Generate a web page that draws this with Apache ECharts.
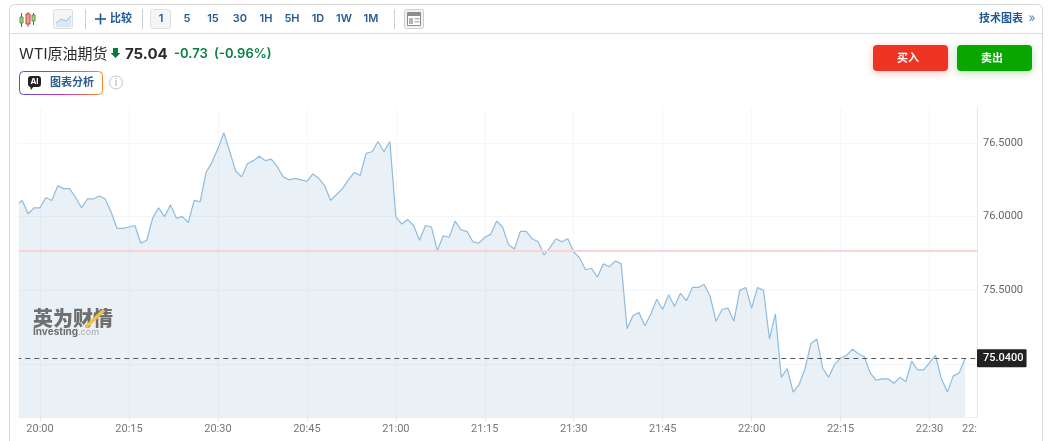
<!DOCTYPE html>
<html><head><meta charset="utf-8">
<style>html,body{margin:0;padding:0;background:#fff;overflow:hidden}#c{width:1055px;height:441px}</style>
<script src="https://cdn.jsdelivr.net/npm/echarts@6/dist/echarts.min.js"></script>
</head><body><div id="c"></div>
<script>
const firstMinute = 19*60+56; // first point is 19:56, one point a minute
const prices = [76.08,76.11,76.02,76.06,76.06,76.13,76.11,76.21,76.19,76.19,76.13,76.06,76.12,76.12,76.14,76.12,76.03,75.92,75.92,75.93,75.94,75.82,75.84,75.99,76.06,76.00,76.08,75.99,76.00,75.96,76.11,76.10,76.30,76.37,76.46,76.57,76.44,76.31,76.27,76.36,76.38,76.41,76.38,76.39,76.34,76.27,76.25,76.26,76.25,76.24,76.29,76.26,76.21,76.11,76.15,76.19,76.25,76.30,76.28,76.43,76.44,76.51,76.44,76.51,76.00,75.95,75.98,75.94,75.84,75.94,75.93,75.77,75.87,75.86,75.97,75.91,75.90,75.83,75.82,75.86,75.88,75.97,75.93,75.81,75.78,75.90,75.90,75.85,75.83,75.74,75.79,75.85,75.83,75.85,75.76,75.72,75.64,75.65,75.59,75.68,75.66,75.70,75.68,75.24,75.33,75.35,75.26,75.34,75.44,75.37,75.47,75.39,75.48,75.43,75.52,75.52,75.54,75.46,75.29,75.37,75.38,75.29,75.50,75.52,75.38,75.52,75.50,75.17,75.34,74.91,74.97,74.81,74.86,74.97,75.14,75.17,74.97,74.91,75.00,75.04,75.06,75.10,75.07,75.05,74.94,74.89,74.90,74.90,74.87,74.91,74.88,75.02,74.96,74.96,75.01,75.06,74.90,74.81,74.92,74.94,75.04];
const lastPrice = 75.04;
const prevClose = 75.77;
const yTicks = [75, 75.5, 76, 76.5];
const periods = ['1','5','15','30','1H','5H','1D','1W','1M'];
const periodX = [161,187,213,240,266,292,318,344,371];
const slotCount = 163; // the axis runs on a little past the last price
const pad2 = n => String(n).padStart(2,'0');
const times = Array.from({length:slotCount},(_, i)=>{const m=firstMinute+i;return pad2(Math.floor(m/60))+':'+pad2(m%60);});
const isQuarter = i => (firstMinute+i)%15===0;

const FONT = 'Inter, "Noto Sans CJK SC", sans-serif';
const BLUE = '#1f5a96';
const chart = echarts.init(document.getElementById('c'), null, {renderer:'canvas'});

const T = (x,y,text,font,fill,align,base)=>({type:'text',silent:true,z:100,style:{x,y,text,font,fill,textAlign:align||'left',textVerticalAlign:base||'middle'}});
const R = (x,y,w,h,fill,stroke,r,extra)=>({type:'rect',silent:true,z:100,shape:{x,y,width:w,height:h,r:r||0},style:Object.assign({fill:fill||'transparent',stroke:stroke||null,lineWidth:1},extra||{})});
const L = (x1,y1,x2,y2,stroke,w)=>({type:'line',silent:true,z:100,shape:{x1,y1,x2,y2},style:{stroke,lineWidth:w||1}});

const g = [];
// mask clipping the line at the plot's left edge
g.push(R(0,100,18.7,341,'#fff'));
// card
g.push(R(9.5,4.5,1033,460,'transparent','#d8d8d8',5));
g.push(L(10,33.5,1042,33.5,'#dcdcdc'));
// candle icon
g.push(L(21.5,13,21.5,27,'#666'), L(28,12,28,27,'#666'), L(33.5,13,33.5,25,'#666'));
g.push(R(20,17,3,6,'#a9cf8f','#4f9a3f'), R(26,14,4,10,'#eb9b90','#c8402f'), R(32,15,3,6,'#a9cf8f','#4f9a3f'));
// area icon
g.push(R(53.5,9.5,19,19,'#f4f5f7','#dddddd',2));
g.push({type:'polygon',silent:true,z:100,shape:{points:[[56,23],[61,19],[66,21],[71,16],[71,27],[56,27]]},style:{fill:'#dbe7f2'}});
g.push({type:'polyline',silent:true,z:100,shape:{points:[[56,23],[61,19],[66,21],[71,16]]},style:{stroke:'#9cc0de',fill:null,lineWidth:1}});
g.push(L(85.5,9,85.5,29,'#cfcfcf'));
g.push(L(95,19,106,19,BLUE,1.6), L(100.5,13.5,100.5,24.5,BLUE,1.6));
g.push(T(110,19,'比较','bold 11px '+FONT,BLUE));
g.push(L(142.5,9,142.5,29,'#cfcfcf'));
g.push(R(150.5,9.5,20,19,'#f5f5f5','#e0e0e0',2));
periods.forEach((p,i)=>g.push(T(periodX[i],19,p,'600 11px '+FONT,BLUE,'center')));
g.push(L(394.5,9,394.5,29,'#cfcfcf'));
// layout icon
g.push(R(404.5,9.5,19,19,'#f1f1f1','#cfcfcf',2));
g.push(R(407.5,12.5,13,13,'#fff','#8d8d8d'));
g.push(R(408,13,12,3,'#8d8d8d'), R(409,18,4,6,'#b5b5b5'), R(414.5,18,5,1.5,'#b5b5b5'), R(414.5,21,5,1.5,'#b5b5b5'));
g.push(T(979,19,'技术图表','bold 11px '+FONT,BLUE));
g.push(T(1032,18,'»','12px '+FONT,'#4d7fb8','center'));
// heading
g.push(T(19,54,'WTI原油期货','15px '+FONT,'#2b2b2b'));
g.push({type:'polygon',silent:true,z:100,shape:{points:[[113,48],[118,48],[118,53],[120.5,53],[115.5,58],[110.5,53],[113,53]]},style:{fill:'#0b7a3b'}});
g.push(T(125,54,'75.04','bold 15px '+FONT,'#2b2b2b'));
g.push(T(174,54,'-0.73','600 13px '+FONT,'#0b7f43'));
g.push(T(214,54,'(-0.96%)','600 13px '+FONT,'#0b7f43'));
// AI button
g.push(R(19.5,71.5,83,23,'#fff',new echarts.graphic.LinearGradient(0,0,1,0,[{offset:0,color:'#5b46e8'},{offset:.5,color:'#c03ab0'},{offset:1,color:'#ff8a1a'}]),4));
g.push(R(28,76,13,11,'#222','',3));
g.push({type:'polygon',silent:true,z:100,shape:{points:[[30,86],[34,86],[31,90]]},style:{fill:'#222'}});
g.push(T(34.5,81.5,'AI','bold 8px '+FONT,'#fff','center'));
g.push(T(50,82.5,'图表分析','bold 11px '+FONT,'#2c5d90'));
g.push({type:'circle',silent:true,z:100,shape:{cx:116,cy:82.5,r:6.5},style:{fill:'#fff',stroke:'#c4c4c4',lineWidth:1}});
g.push(T(116,83,'i','10px '+FONT,'#a8a8a8','center'));
// buttons
g.push(R(873,45,75,26,'#ee3524','',4,{shadowBlur:8,shadowColor:'rgba(238,53,36,.3)',shadowOffsetY:2}));
g.push(T(908,58.5,'买入','bold 11px '+FONT,'#fff','center'));
g.push(R(957,45,75,26,'#0aa600','',4,{shadowBlur:8,shadowColor:'rgba(10,166,0,.3)',shadowOffsetY:2}));
g.push(T(992,58.5,'卖出','bold 11px '+FONT,'#fff','center'));
// watermark
g.push(T(33,318,'英为财情','900 20px "Noto Sans CJK SC", sans-serif','#6f6f6f'));
g.push(L(86,327,104,310,'#f0c24a',3.5));
g.push(T(33,332,'Investing','bold 10px '+FONT,'#6f6f6f'));
g.push(T(78,332.5,'.com','9px '+FONT,'#a9a9a9'));

const gridInterval = i => isQuarter(i);
const labelInterval = i => isQuarter(i) || i===slotCount-1;

chart.setOption({
  animation:false,
  textStyle:{fontFamily:'Roboto, sans-serif'},
  grid:{left:16.28,right:78,top:108,bottom:24,containLabel:false},
  graphic:{elements:g},
  xAxis:{type:'category',data:times,boundaryGap:false,
    axisLine:{show:true,lineStyle:{color:'#eceef1'}},
    axisTick:{show:true,length:4,interval:gridInterval,lineStyle:{color:'#e6e8eb'}},
    splitLine:{show:true,interval:gridInterval,lineStyle:{color:'#f5f6f8'}},
    axisLabel:{color:'#777',fontSize:11,fontFamily:'Roboto, sans-serif',margin:7,interval:labelInterval,alignMaxLabel:'right',showMaxLabel:true,
      formatter:(v,i)=> i===slotCount-1 ? v.slice(0,3) : v}
  },
  yAxis:{type:'value',position:'right',min:74.641,max:76.737,
    axisLine:{show:true,lineStyle:{color:'#e6e8eb'}},
    axisTick:{show:false,customValues:yTicks},
    splitLine:{show:true,lineStyle:{color:'#f5f6f8'}},
    axisLabel:{color:'#666',fontSize:11,fontFamily:'Roboto, sans-serif',margin:6,customValues:yTicks,
      formatter:v=>v.toFixed(4)}
  },
  series:[{type:'line',symbol:'none',smooth:false,
    data:prices,
    lineStyle:{color:'#8fbcdf',width:1.2},
    areaStyle:{color:'rgba(110,155,195,.21)',origin:'start'},
    markLine:{silent:true,symbol:'none',animation:false,
      data:[
        {yAxis:prevClose,lineStyle:{color:'#fbd3d3',width:2,type:'solid'},label:{show:false}},
        {yAxis:lastPrice,lineStyle:{color:'#5a5a5a',width:1,type:[5,4]},
         label:{show:true,position:'end',distance:0,formatter:lastPrice.toFixed(4),color:'#fff',fontSize:11,fontWeight:500,fontFamily:'Roboto, sans-serif',backgroundColor:'#222',padding:[4,3,3,6],borderRadius:1}}
      ]}
  }]
});
</script></body></html>
